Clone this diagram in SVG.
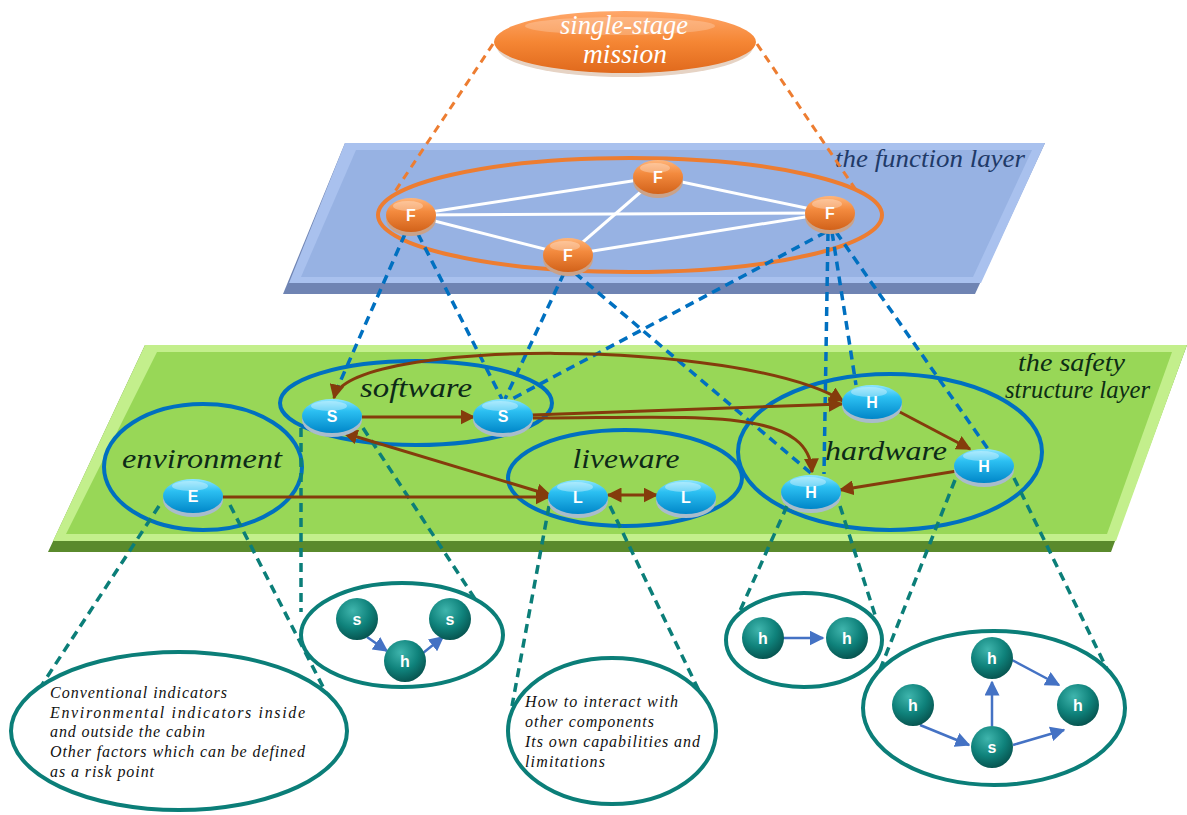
<svg xmlns="http://www.w3.org/2000/svg" width="1187" height="815" viewBox="0 0 1187 815">
<defs>
<style>
.lbl{font-family:"Liberation Serif","DejaVu Serif",serif;font-style:italic;}
.big{font-size:28px;fill:#0d2a18;}
.note{font-family:"Liberation Serif","DejaVu Serif",serif;font-style:italic;font-size:16px;fill:#111;}
.nodeTxt{font-family:"Liberation Sans","DejaVu Sans",sans-serif;font-weight:bold;font-size:16px;fill:#fff;text-anchor:middle;}
.tealTxt{font-family:"Liberation Sans","DejaVu Sans",sans-serif;font-weight:bold;font-size:16px;fill:#fff;text-anchor:middle;}
.grp{fill:none;stroke:#0070c0;stroke-width:4;}
.tgrp{fill:#fff;stroke:#0b7e78;stroke-width:4;}
.brown{fill:none;stroke:#843c0c;stroke-width:3;}
.bdash{fill:none;stroke:#0070c0;stroke-width:3.5;stroke-dasharray:9 6;}
.tdash{fill:none;stroke:#0b7e78;stroke-width:3.5;stroke-dasharray:9 6;}
.odash{fill:none;stroke:#ed7d31;stroke-width:3;stroke-dasharray:8 6;}
.white{stroke:#fff;stroke-width:3;}
.barrow{fill:none;stroke:#4472c4;stroke-width:2.5;}
</style>
<linearGradient id="blueG" x1="0" y1="0" x2="0" y2="1">
<stop offset="0" stop-color="#8fe6ff"/>
<stop offset="0.35" stop-color="#2cc0f2"/>
<stop offset="1" stop-color="#0086c8"/>
</linearGradient>
<linearGradient id="orangeG" x1="0" y1="0" x2="0" y2="1">
<stop offset="0" stop-color="#ffb57a"/>
<stop offset="0.4" stop-color="#f38a3e"/>
<stop offset="1" stop-color="#d2621a"/>
</linearGradient>
<radialGradient id="tealG" cx="0.4" cy="0.3" r="0.75">
<stop offset="0" stop-color="#3fb5ad"/>
<stop offset="0.55" stop-color="#0f827b"/>
<stop offset="1" stop-color="#064f4b"/>
</radialGradient>
<linearGradient id="topG" x1="0" y1="0" x2="0" y2="1">
<stop offset="0" stop-color="#ffa76a"/>
<stop offset="0.5" stop-color="#f58634"/>
<stop offset="1" stop-color="#e0691c"/>
</linearGradient>
<marker id="ah" viewBox="0 0 10 10" refX="9" refY="5" markerWidth="5" markerHeight="5" orient="auto-start-reverse" markerUnits="strokeWidth">
<path d="M0,0 L10,5 L0,10 z" fill="#843c0c"/>
</marker>
<marker id="ahb" viewBox="0 0 10 10" refX="9" refY="5" markerWidth="6" markerHeight="6" orient="auto" markerUnits="strokeWidth">
<path d="M0,0 L10,5 L0,10 z" fill="#4472c4"/>
</marker>
</defs>
<rect width="1187" height="815" fill="#fff"/>

<!-- function layer -->
<g id="function-layer">
<polygon points="345,143 1045,143 975,294 283,294" fill="#6f84b3"/>
<polygon points="345,143 1045,143 981,283 289,283" fill="#a9c1ee"/>
<polygon points="356,150 1032,150 973,277 301,277" fill="#97b2e3"/>
<text class="lbl" x="1025" y="167" font-size="25" fill="#1f3a68" text-anchor="end" textLength="190" lengthAdjust="spacingAndGlyphs">the function layer</text>
</g>

<!-- safety structure layer -->
<g id="safety-layer">
<polygon points="145,345 1187,345 1111,552 48,552" fill="#5a8a2c"/>
<polygon points="145,345 1187,345 1116,541 53,541" fill="#c3ef8c"/>
<polygon points="157,352 1172,352 1107,534 66,534" fill="#98d757"/>
<text class="lbl" x="1125" y="371" font-size="25" fill="#0d2d14" text-anchor="end" textLength="107" lengthAdjust="spacingAndGlyphs">the safety</text>
<text class="lbl" x="1150" y="398" font-size="25" fill="#0d2d14" text-anchor="end" textLength="145" lengthAdjust="spacingAndGlyphs">structure layer</text>
</g>

<!-- group ellipses -->
<g id="group-software"><ellipse class="grp" cx="416" cy="403" rx="136" ry="42"/><text class="lbl big" x="416" y="397" text-anchor="middle" textLength="112" lengthAdjust="spacingAndGlyphs">software</text></g>
<g id="group-environment"><ellipse class="grp" cx="203" cy="467" rx="99" ry="63"/><text class="lbl big" x="202" y="468" text-anchor="middle" textLength="160" lengthAdjust="spacingAndGlyphs">environment</text></g>
<g id="group-liveware"><ellipse class="grp" cx="625" cy="478" rx="117" ry="48"/><text class="lbl big" x="626" y="468" text-anchor="middle" textLength="107" lengthAdjust="spacingAndGlyphs">liveware</text></g>
<g id="group-hardware"><ellipse class="grp" cx="890" cy="452" rx="152" ry="78"/><text class="lbl big" x="886" y="460" text-anchor="middle" textLength="122" lengthAdjust="spacingAndGlyphs">hardware</text></g>

<!-- function ring -->
<g id="function-ring"><ellipse cx="630" cy="215" rx="252" ry="57" fill="none" stroke="#ed7d31" stroke-width="4"/></g>

<!-- connectors -->
<g id="connectors">
<line class="white" x1="411" y1="215" x2="658" y2="177"/>
<line class="white" x1="411" y1="215" x2="830" y2="213"/>
<line class="white" x1="411" y1="215" x2="568" y2="255"/>
<line class="white" x1="658" y1="177" x2="568" y2="255"/>
<line class="white" x1="658" y1="177" x2="830" y2="213"/>
<line class="white" x1="568" y1="255" x2="830" y2="213"/>

<line class="odash" x1="493" y1="44" x2="392" y2="196"/>
<line class="odash" x1="757" y1="44" x2="858" y2="193"/>

<line class="bdash" x1="405" y1="234" x2="333" y2="398"/>
<line class="bdash" x1="418" y1="234" x2="502" y2="399"/>
<line class="bdash" x1="564" y1="273" x2="505" y2="399"/>
<line class="bdash" x1="575" y1="273" x2="812" y2="474"/>
<line class="bdash" x1="826" y1="232" x2="510" y2="400"/>
<line class="bdash" x1="828" y1="232" x2="824" y2="474"/>
<line class="bdash" x1="832" y1="232" x2="856" y2="385"/>
<line class="bdash" x1="836" y1="232" x2="988" y2="449"/>

<line class="tdash" x1="159" y1="506" x2="15" y2="726"/>
<line class="tdash" x1="230" y1="505" x2="345" y2="730"/>
<line class="tdash" x1="301" y1="428" x2="301" y2="612"/>
<line class="tdash" x1="363" y1="428" x2="500" y2="637"/>
<line class="tdash" x1="549" y1="506" x2="512" y2="706"/>
<line class="tdash" x1="610" y1="506" x2="714" y2="722"/>
<line class="tdash" x1="787" y1="506" x2="735" y2="622"/>
<line class="tdash" x1="840" y1="506" x2="876" y2="618"/>
<line class="tdash" x1="955" y1="480" x2="866" y2="705"/>
<line class="tdash" x1="1014" y1="478" x2="1122" y2="700"/>

<line class="brown" x1="362" y1="417" x2="474" y2="417" marker-end="url(#ah)"/>
<line class="brown" x1="344" y1="433" x2="550" y2="495" marker-start="url(#ah)" marker-end="url(#ah)"/>
<line class="brown" x1="222" y1="497" x2="549" y2="497" marker-end="url(#ah)"/>
<line class="brown" x1="608" y1="495" x2="657" y2="495" marker-start="url(#ah)" marker-end="url(#ah)"/>
<line class="brown" x1="532" y1="415" x2="842" y2="404" marker-end="url(#ah)"/>
<path class="brown" d="M532,418 C695,418 809,406 812,472" marker-end="url(#ah)"/>
<path class="brown" d="M334,398 C348,338 740,338 843,401" marker-start="url(#ah)" marker-end="url(#ah)"/>
<line class="brown" x1="896" y1="410" x2="970" y2="449" marker-end="url(#ah)"/>
<line class="brown" x1="957" y1="471" x2="840" y2="490" marker-end="url(#ah)"/>
</g>

<!-- top mission node -->
<g id="mission">
<ellipse cx="625" cy="47" rx="128" ry="30" fill="#e6d3c4"/>
<ellipse cx="625" cy="42" rx="131" ry="31" fill="url(#topG)"/>
<ellipse cx="620" cy="26" rx="95" ry="9" fill="#fff" opacity="0.22"/>
<text class="lbl" x="624" y="34" font-size="27" fill="#fff" text-anchor="middle" textLength="128" lengthAdjust="spacingAndGlyphs">single-stage</text>
<text class="lbl" x="625" y="63" font-size="27" fill="#fff" text-anchor="middle" textLength="84" lengthAdjust="spacingAndGlyphs">mission</text>
</g>

<!-- F nodes -->
<g id="F1"><ellipse cx="411" cy="219" rx="25" ry="17" fill="#c9a28a"/><ellipse cx="411" cy="215" rx="25" ry="17" fill="url(#orangeG)"/><ellipse cx="408" cy="206" rx="15" ry="5" fill="#fff" opacity="0.3"/><text class="nodeTxt" x="411" y="221">F</text></g>
<g id="F2"><ellipse cx="658" cy="181" rx="25" ry="17" fill="#c9a28a"/><ellipse cx="658" cy="177" rx="25" ry="17" fill="url(#orangeG)"/><ellipse cx="655" cy="168" rx="15" ry="5" fill="#fff" opacity="0.3"/><text class="nodeTxt" x="658" y="183">F</text></g>
<g id="F3"><ellipse cx="568" cy="259" rx="25" ry="17" fill="#c9a28a"/><ellipse cx="568" cy="255" rx="25" ry="17" fill="url(#orangeG)"/><ellipse cx="565" cy="246" rx="15" ry="5" fill="#fff" opacity="0.3"/><text class="nodeTxt" x="568" y="261">F</text></g>
<g id="F4"><ellipse cx="830" cy="217" rx="25" ry="17" fill="#c9a28a"/><ellipse cx="830" cy="213" rx="25" ry="17" fill="url(#orangeG)"/><ellipse cx="827" cy="204" rx="15" ry="5" fill="#fff" opacity="0.3"/><text class="nodeTxt" x="830" y="219">F</text></g>

<!-- blue nodes -->
<g id="S1"><ellipse cx="332" cy="420" rx="30" ry="17" fill="#a9bccb"/><ellipse cx="332" cy="416" rx="30" ry="17" fill="url(#blueG)"/><ellipse cx="329" cy="406" rx="18" ry="5" fill="#fff" opacity="0.35"/><text class="nodeTxt" x="332" y="422">S</text></g>
<g id="S2"><ellipse cx="503" cy="420" rx="30" ry="17" fill="#a9bccb"/><ellipse cx="503" cy="416" rx="30" ry="17" fill="url(#blueG)"/><ellipse cx="500" cy="406" rx="18" ry="5" fill="#fff" opacity="0.35"/><text class="nodeTxt" x="503" y="422">S</text></g>
<g id="H1"><ellipse cx="872" cy="406" rx="30" ry="17" fill="#a9bccb"/><ellipse cx="872" cy="402" rx="30" ry="17" fill="url(#blueG)"/><ellipse cx="869" cy="392" rx="18" ry="5" fill="#fff" opacity="0.35"/><text class="nodeTxt" x="872" y="408">H</text></g>
<g id="H2"><ellipse cx="811" cy="496" rx="30" ry="17" fill="#a9bccb"/><ellipse cx="811" cy="492" rx="30" ry="17" fill="url(#blueG)"/><ellipse cx="808" cy="482" rx="18" ry="5" fill="#fff" opacity="0.35"/><text class="nodeTxt" x="811" y="498">H</text></g>
<g id="H3"><ellipse cx="984" cy="470" rx="30" ry="17" fill="#a9bccb"/><ellipse cx="984" cy="466" rx="30" ry="17" fill="url(#blueG)"/><ellipse cx="981" cy="456" rx="18" ry="5" fill="#fff" opacity="0.35"/><text class="nodeTxt" x="984" y="472">H</text></g>
<g id="E"><ellipse cx="193" cy="500" rx="30" ry="17" fill="#a9bccb"/><ellipse cx="193" cy="496" rx="30" ry="17" fill="url(#blueG)"/><ellipse cx="190" cy="486" rx="18" ry="5" fill="#fff" opacity="0.35"/><text class="nodeTxt" x="193" y="502">E</text></g>
<g id="L1"><ellipse cx="578" cy="501" rx="30" ry="17" fill="#a9bccb"/><ellipse cx="578" cy="497" rx="30" ry="17" fill="url(#blueG)"/><ellipse cx="575" cy="487" rx="18" ry="5" fill="#fff" opacity="0.35"/><text class="nodeTxt" x="578" y="503">L</text></g>
<g id="L2"><ellipse cx="686" cy="501" rx="30" ry="17" fill="#a9bccb"/><ellipse cx="686" cy="497" rx="30" ry="17" fill="url(#blueG)"/><ellipse cx="683" cy="487" rx="18" ry="5" fill="#fff" opacity="0.35"/><text class="nodeTxt" x="686" y="503">L</text></g>

<!-- bottom detail ellipses -->
<g id="env-detail">
<ellipse class="tgrp" cx="179" cy="731" rx="168" ry="79"/>
<text class="note" x="50" y="698" textLength="177" lengthAdjust="spacing">Conventional indicators</text>
<text class="note" x="50" y="718" textLength="255" lengthAdjust="spacing">Environmental indicators inside</text>
<text class="note" x="50" y="737" textLength="155" lengthAdjust="spacing">and outside the cabin</text>
<text class="note" x="50" y="757" textLength="255" lengthAdjust="spacing">Other factors which can be defined</text>
<text class="note" x="50" y="777" textLength="104" lengthAdjust="spacing">as a risk point</text>
</g>
<g id="live-detail">
<ellipse class="tgrp" cx="612" cy="731" rx="104" ry="73"/>
<text class="note" x="525" y="707" textLength="153" lengthAdjust="spacing">How to interact with</text>
<text class="note" x="525" y="727" textLength="129" lengthAdjust="spacing">other components</text>
<text class="note" x="525" y="747" textLength="175" lengthAdjust="spacing">Its own capabilities and</text>
<text class="note" x="525" y="767" textLength="80" lengthAdjust="spacing">limitations</text>
</g>
<g id="soft-detail">
<ellipse class="tgrp" cx="402" cy="635" rx="101" ry="52"/>
<line class="barrow" x1="367" y1="637" x2="387" y2="651" marker-end="url(#ahb)"/>
<line class="barrow" x1="423" y1="653" x2="443" y2="637" marker-end="url(#ahb)"/>
<circle cx="357" cy="619" r="21" fill="url(#tealG)"/><text class="tealTxt" x="357" y="625">s</text>
<circle cx="405" cy="661" r="21" fill="url(#tealG)"/><text class="tealTxt" x="405" y="667">h</text>
<circle cx="450" cy="619" r="21" fill="url(#tealG)"/><text class="tealTxt" x="450" y="625">s</text>
</g>
<g id="hw-detail-1">
<ellipse class="tgrp" cx="804" cy="640" rx="78" ry="47"/>
<line class="barrow" x1="783" y1="638" x2="823" y2="638" marker-end="url(#ahb)"/>
<circle cx="763" cy="638" r="21" fill="url(#tealG)"/><text class="tealTxt" x="763" y="644">h</text>
<circle cx="847" cy="638" r="21" fill="url(#tealG)"/><text class="tealTxt" x="847" y="644">h</text>
</g>
<g id="hw-detail-2">
<ellipse class="tgrp" cx="994" cy="708" rx="131" ry="77"/>
<line class="barrow" x1="920" y1="725" x2="969" y2="745" marker-end="url(#ahb)"/>
<line class="barrow" x1="992" y1="726" x2="992" y2="682" marker-end="url(#ahb)"/>
<line class="barrow" x1="1012" y1="660" x2="1059" y2="685" marker-end="url(#ahb)"/>
<line class="barrow" x1="1013" y1="745" x2="1064" y2="730" marker-end="url(#ahb)"/>
<circle cx="992" cy="658" r="21" fill="url(#tealG)"/><text class="tealTxt" x="992" y="664">h</text>
<circle cx="913" cy="705" r="21" fill="url(#tealG)"/><text class="tealTxt" x="913" y="711">h</text>
<circle cx="1078" cy="705" r="21" fill="url(#tealG)"/><text class="tealTxt" x="1078" y="711">h</text>
<circle cx="992" cy="747" r="21" fill="url(#tealG)"/><text class="tealTxt" x="992" y="753">s</text>
</g>
</svg>
